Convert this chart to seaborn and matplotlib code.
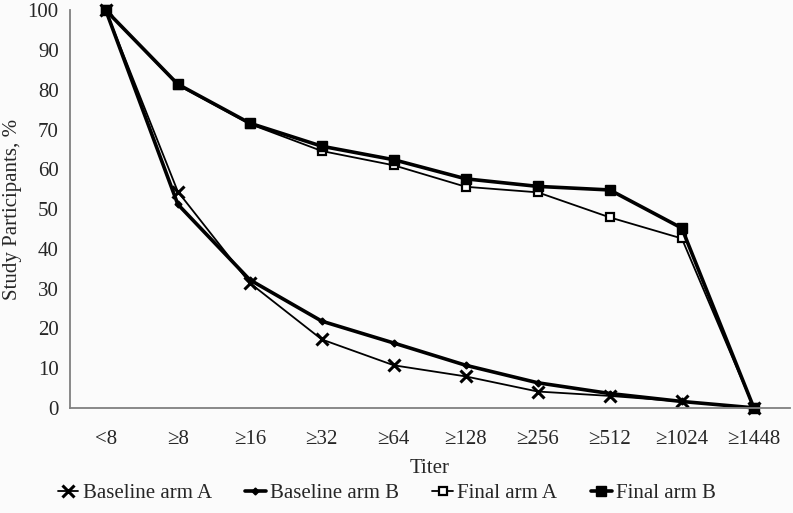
import numpy as np
import pandas as pd
import matplotlib
matplotlib.use('Agg')
import matplotlib.pyplot as plt
import seaborn as sns

# Data
titers = ['<8', '≥8', '≥16', '≥32', '≥64', '≥128', '≥256', '≥512', '≥1024', '≥1448']
baseline_a = [100, 54.4, 31.4, 17.2, 10.7, 7.9, 4.1, 3.0, 1.6, 0]
baseline_b = [100, 51.2, 32.2, 21.8, 16.3, 10.7, 6.3, 3.6, 1.6, 0]
final_a = [100, 81.2, 71.4, 64.6, 61.0, 55.6, 54.2, 47.9, 42.6, 0]
final_b = [100, 81.4, 71.6, 65.8, 62.4, 57.6, 55.7, 54.8, 45.2, 0]

series = {
    'Baseline arm A': baseline_a,
    'Baseline arm B': baseline_b,
    'Final arm A': final_a,
    'Final arm B': final_b,
}
styles = {
    'Baseline arm A': dict(lw=1.3, marker='x', ms=9, mew=2.2, mfc='black'),
    'Baseline arm B': dict(lw=2.6, marker='D', ms=3.5, mew=1, mfc='black'),
    'Final arm A': dict(lw=1.3, marker='s', ms=6, mew=1.6, mfc='white'),
    'Final arm B': dict(lw=2.6, marker='s', ms=6.5, mew=1, mfc='black'),
}

df = pd.DataFrame([
    {'pos': i, 'Titer': t, 'value': v, 'series': name}
    for name, vals in series.items()
    for i, (t, v) in enumerate(zip(titers, vals))
])

sns.set_style('white')
plt.rcParams['font.family'] = ['Liberation Serif', 'DejaVu Serif']

fig = plt.figure(figsize=(7.93, 5.13), dpi=100, facecolor='#fbfbfb')
ax = fig.add_axes([0.088, 0.205, 0.908, 0.775])
ax.set_facecolor('#fbfbfb')

for name in series:
    sub = df[df['series'] == name]
    st = styles[name]
    sns.lineplot(data=sub, x='pos', y='value', ax=ax, color='black',
                 linewidth=st['lw'], marker=st['marker'], markersize=st['ms'],
                 markeredgewidth=st['mew'], markerfacecolor=st['mfc'],
                 markeredgecolor='black', label=name, sort=False, clip_on=False)

ax.set_xlim(-0.5, len(titers) - 0.5)
ax.set_ylim(0, 100)
ax.set_yticks(np.arange(0, 101, 10))
ax.set_xticks(range(len(titers)))
ax.set_xticklabels(titers)
ax.tick_params(axis='both', labelsize=15, length=0, pad=8)
ax.tick_params(axis='x', pad=16)
for side in ['top', 'right']:
    ax.spines[side].set_visible(False)
for side in ['left', 'bottom']:
    ax.spines[side].set_color('#808080')
    ax.spines[side].set_linewidth(1.3)

ax.set_xlabel('Titer', fontsize=15, labelpad=7)
ax.set_ylabel('Study Participants, %', fontsize=15, labelpad=4)

ax.legend(loc='center', bbox_to_anchor=(0.44, -0.215), ncol=4, frameon=False,
          fontsize=15, handlelength=1.0, handletextpad=0.2, columnspacing=1.6)

fig.savefig('out.png', dpi=100, facecolor=fig.get_facecolor())
